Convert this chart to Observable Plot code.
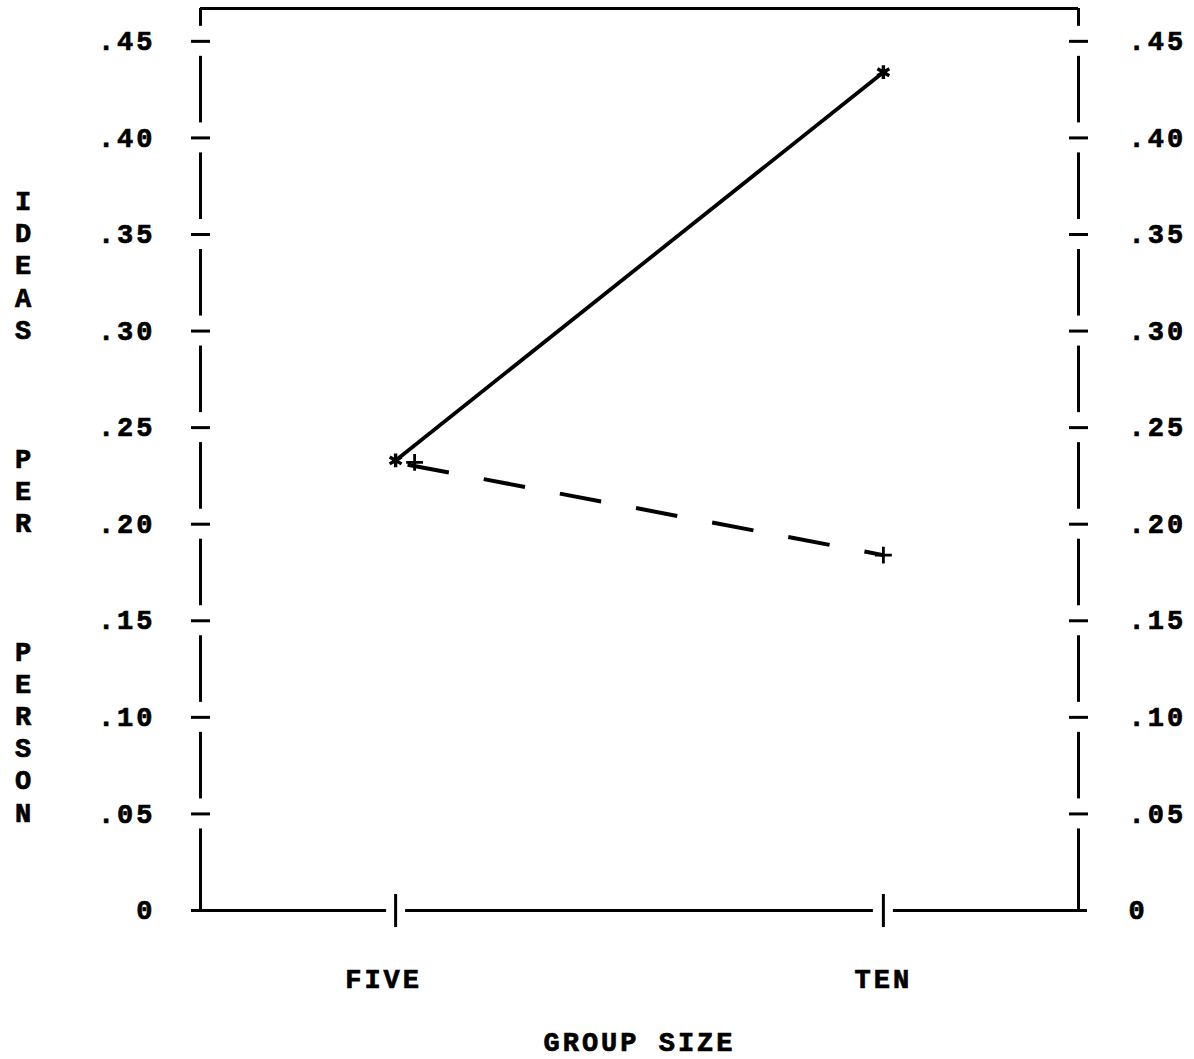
<!DOCTYPE html>
<html>
<head>
<meta charset="utf-8">
<script src="https://cdn.jsdelivr.net/npm/d3@7"></script>
<script src="https://cdn.jsdelivr.net/npm/@observablehq/plot@0.6"></script>
<style>
  html, body { margin: 0; padding: 0; background: #fff; }
  /* heavier, typewriter-like lettering */
  #chart svg text { stroke: #000; stroke-width: 0.7px; paint-order: stroke; }
</style>
</head>
<body>
<div id="chart"></div>
<script>
// Group sizes and the two series of ideas per person
const groups = ["FIVE", "TEN"];
const solidValues = [0.233, 0.434];   // asterisk series (solid line)
const dashedValues = [0.232, 0.184];  // plus series (dashed line)

// Axis ticks and their printed labels
const yTicks = [0, 0.05, 0.10, 0.15, 0.20, 0.25, 0.30, 0.35, 0.40, 0.45];
const yTickLabels = ["0", ".05", ".10", ".15", ".20", ".25", ".30", ".35", ".40", ".45"];
const yTitleWords = ["IDEAS", "PER", "PERSON"];
const xTitle = "GROUP SIZE";

// Scale extents
const yTop = 0.467;
const xMin = 0.6, xMax = 2.4;

const rows = groups.map((g, i) => ({group: g, pos: i + 1, solid: solidValues[i], dashed: dashedValues[i]}));
const labelOf = new Map(yTicks.map((v, i) => [v, yTickLabels[i]]));
const tickFormat = d => labelOf.get(d);

// Side frame lines are broken around each tick, typewriter style
const bounds = [yTop, ...yTicks.slice().reverse()];
const pieces = d3.pairs(bounds).map(([hi, lo]) => ({hi, lo}));
const topPiece = pieces.slice(0, 1);
const midPieces = pieces.slice(1, -1);
const lowPiece = pieces.slice(-1);
const sideTicks = yTicks.filter(v => v > 0);

// Baseline broken around each group tick
const xStops = [xMin, ...rows.map(r => r.pos), xMax];
const basePieces = d3.pairs(xStops).map(([a, b]) => ({a, b}));

// Vertical title: one letter per line, blank lines between words
const blank = "\u00a0";
const titleLines = [];
yTitleWords.forEach((w, i) => {
  if (i > 0) titleLines.push(blank, blank, blank);
  titleLines.push(...w.split(""));
});

const ink = "#000";
const frameW = 3;

function sideLines(xv) {
  return [
    Plot.ruleX(topPiece, {x: () => xv, y1: "hi", y2: "lo", insetBottom: 15, stroke: ink, strokeWidth: frameW}),
    Plot.ruleX(midPieces, {x: () => xv, y1: "hi", y2: "lo", insetTop: 15, insetBottom: 15, stroke: ink, strokeWidth: frameW}),
    Plot.ruleX(lowPiece, {x: () => xv, y1: "hi", y2: "lo", insetTop: 15, stroke: ink, strokeWidth: frameW}),
    Plot.ruleY(sideTicks, {y: d => d, x1: () => xv, x2: () => xv, insetLeft: -9, insetRight: -10, stroke: ink, strokeWidth: frameW})
  ];
}

const chart = Plot.plot({
  width: 1194,
  height: 1059,
  marginTop: 8,
  marginBottom: 149,
  marginLeft: 200,
  marginRight: 116,
  x: {type: "linear", domain: [xMin, xMax], axis: null},
  y: {type: "linear", domain: [0, yTop], axis: null},
  style: {
    fontFamily: "'Liberation Mono', 'Courier New', monospace",
    fontWeight: "bold",
    fontSize: "27px",
    letterSpacing: "3px",
    color: ink,
    background: "#fff"
  },
  marks: [
    // frame
    Plot.ruleY([yTop], {x1: xMin, x2: xMax, stroke: ink, strokeWidth: frameW}),
    ...sideLines(xMin),
    ...sideLines(xMax),
    Plot.ruleY(basePieces.slice(0, 1), {y: 0, x1: "a", x2: "b", insetLeft: -9, insetRight: 9, stroke: ink, strokeWidth: frameW}),
    Plot.ruleY(basePieces.slice(1, -1), {y: 0, x1: "a", x2: "b", insetLeft: 10, insetRight: 10, stroke: ink, strokeWidth: frameW}),
    Plot.ruleY(basePieces.slice(-1), {y: 0, x1: "a", x2: "b", insetLeft: 10, insetRight: -9, stroke: ink, strokeWidth: frameW}),
    Plot.ruleX(rows, {x: "pos", y1: 0, y2: 0, insetTop: -16, insetBottom: -17, stroke: ink, strokeWidth: frameW}),

    // tick labels on both sides
    Plot.axisY(yTicks, {anchor: "left", tickSize: 0, tickPadding: 45, tickFormat, textAnchor: "end", label: null}),
    Plot.axisY(yTicks, {anchor: "right", tickSize: 0, tickPadding: 50, tickFormat, textAnchor: "start", label: null}),

    // group labels; the four-letter one sits half a column to the left
    Plot.text(rows, {filter: d => d.group.length % 2 === 0, x: "pos", y: 0, text: "group", dy: 69, dx: -12, lineAnchor: "middle", fill: ink}),
    Plot.text(rows, {filter: d => d.group.length % 2 === 1, x: "pos", y: 0, text: "group", dy: 69, lineAnchor: "middle", fill: ink}),

    // axis titles
    Plot.text([xTitle], {frameAnchor: "bottom", dy: 132, lineAnchor: "middle", fill: ink}),
    Plot.text([titleLines.join("\n")], {frameAnchor: "left", dx: -176, dy: 46, textAnchor: "middle", lineAnchor: "middle", lineHeight: 32.19 / 27, fill: ink}),

    // series
    Plot.line(rows, {x: "pos", y: "solid", stroke: ink, strokeWidth: 3.8, strokeLinecap: "butt"}),
    Plot.line(rows, {x: "pos", y: "dashed", stroke: ink, strokeWidth: 4, strokeLinecap: "butt", strokeDasharray: "42,35.5", strokeDashoffset: 65.3}),
    Plot.dot(rows, {x: "pos", y: "solid", symbol: "asterisk", r: 6.5, stroke: ink, strokeWidth: 3.4}),
    Plot.dot(rows, {filter: d => d.pos === 1, x: "pos", y: "dashed", symbol: "plus", r: 5.5, dx: 19, stroke: ink, strokeWidth: 2.8}),
    Plot.dot(rows, {filter: d => d.pos !== 1, x: "pos", y: "dashed", symbol: "plus", r: 5.5, stroke: ink, strokeWidth: 2.8})
  ]
});

document.getElementById("chart").appendChild(chart);
</script>
</body>
</html>
